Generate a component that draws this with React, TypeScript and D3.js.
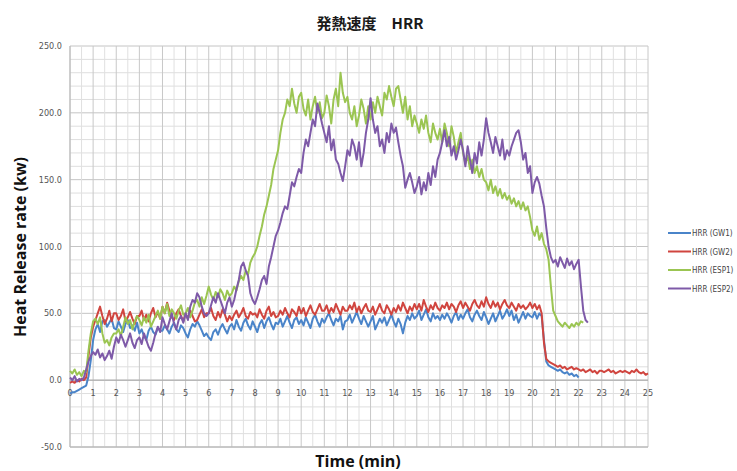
import * as d3 from "d3";

// sampled every 0.1 min
const STEP = 0.1;

const hrrGW1 = [
  -10, -9, -9, -8, -7, -6, -5, -4, 3, 15,
  30, 38, 42, 36, 44, 45, 40, 43, 46, 39,
  38, 44, 40, 36, 42, 45, 39, 41, 37, 43,
  35, 38, 33, 30, 37, 40, 36, 34, 39, 37,
  37, 41, 38, 35, 40, 43, 38, 36, 41, 39,
  35, 32, 38, 42, 40, 44, 41, 37, 33, 35,
  32, 30, 36, 38, 34, 39, 42, 38, 35, 40,
  42, 38, 45, 40, 37, 43, 46, 41, 38, 44,
  40, 36, 42, 45, 39, 44, 47, 42, 38, 43,
  42, 46, 40, 44, 48, 43, 39, 45, 47, 42,
  45, 41, 47, 43, 39, 46, 49, 44, 40, 46,
  43, 47, 50, 45, 41, 46, 44, 48, 38, 44,
  45, 49, 43, 47, 51, 46, 42, 48, 44, 40,
  44, 48, 38, 42, 46, 43, 47, 41, 45, 49,
  44, 40, 46, 42, 35, 43, 48, 45, 50, 46,
  48, 52, 45, 49, 53, 47, 44, 50, 46, 48,
  45, 49, 46, 50, 47, 43, 48, 51, 45, 49,
  46, 50, 53, 47, 44, 49, 52, 48, 45, 51,
  47, 42, 46, 50, 44, 48, 52, 46, 49, 53,
  48, 52, 45, 49, 43, 47, 51, 46, 50, 48,
  47, 51, 46, 50, 48, 30, 14, 11, 10, 9,
  8, 7, 8, 6, 5, 6, 4, 5, 3, 4,
  2,
];

const hrrGW2 = [
  -2, -1, -2, 0, -1, 1, 0, 2, 18, 32,
  40, 45, 50, 55, 48, 42, 46, 52, 44, 50,
  50, 45, 48, 53, 44, 47, 51, 46, 42, 48,
  48, 52, 45, 49, 44, 50, 54, 47, 51, 46,
  55, 50, 58, 52, 47, 45, 50, 53, 48, 44,
  50, 46, 52, 48, 44, 45, 49, 53, 47, 50,
  50, 54, 48, 45, 51, 47, 53, 49, 44, 48,
  45, 49, 52, 47, 50, 54, 48, 46, 51, 49,
  50, 47, 53, 49, 46, 52, 55, 48, 51, 47,
  48, 52, 49, 54, 50, 47, 53, 51, 48, 55,
  50, 54, 48, 52, 56, 51, 49, 53, 57, 52,
  52, 56, 50, 54, 51, 57, 53, 49, 55, 52,
  52, 56, 53, 58, 51, 55, 50, 54, 57, 52,
  51, 55, 49, 53, 57, 52, 50, 56, 53, 49,
  54, 51, 56, 52, 58, 54, 50, 55, 52, 57,
  53, 57, 52, 60, 55, 51, 56, 53, 58, 54,
  52, 56, 54, 58, 53, 57, 55, 51, 56, 59,
  54, 58, 55, 52, 57, 60, 56, 54, 59, 55,
  62, 57, 54, 59, 55, 58, 53, 57, 60, 56,
  54, 58, 55, 52, 57, 54, 56, 53, 55, 58,
  54, 57, 53, 56, 50, 28, 16, 14, 13, 12,
  11, 10, 11, 9, 10, 8, 9, 10, 8, 9,
  8, 7, 8, 6, 7, 8, 6, 7, 5, 7,
  7, 6, 7, 8, 6, 7, 5, 6, 7, 6,
  7, 6, 5, 7, 6, 8, 6, 5, 6, 4,
  5,
];

const hrrESP1 = [
  7, 5, 8, 4, 6, 3, 7, 6, 22, 35,
  44, 46, 42, 47, 35, 28, 30, 26, 32, 35,
  35, 38, 33, 40, 47, 42, 45, 38, 44, 48,
  45, 41, 47, 43, 49, 40, 44, 48, 52, 46,
  55, 50, 57, 48, 53, 50, 46, 52, 56, 49,
  50, 54, 47, 52, 58, 60, 55, 62, 57, 63,
  70, 64, 60, 66, 62, 68, 65, 60, 67, 63,
  65, 70, 67, 74, 78, 75, 82, 79, 88, 92,
  95, 100, 108, 115, 124, 130, 138, 146, 158, 165,
  172, 185, 195, 200, 210, 205, 218, 207, 200, 212,
  215, 203, 198, 210, 195, 205, 212, 200, 208, 196,
  200, 213, 205, 192, 210, 218, 205, 230, 215, 208,
  212, 200, 195, 205, 190, 198, 210, 203, 192, 205,
  195, 208, 200, 212, 205, 198, 215, 210, 220, 212,
  205, 218, 220, 210, 200, 212, 195, 205, 190, 198,
  192, 185, 195, 188, 198, 185, 178, 192, 185, 180,
  188, 178, 192, 185, 175, 190, 182, 170, 178, 185,
  170, 162, 168, 158, 165, 155, 160, 152, 158, 150,
  148, 142, 150, 140, 145, 138, 143, 136, 140, 135,
  138, 132, 136, 130, 134, 128, 133, 127, 130, 122,
  112, 108, 115, 105, 110, 102, 98, 90, 70, 52,
  48, 44, 42, 40, 43, 41, 39, 42, 40, 43,
  41, 44, 43,
];

const hrrESP2 = [
  2, 0, 3, -1, 1, 0, 2, 8, 14, 18,
  21, 19, 23, 17, 20, 15, 18, 22, 16, 25,
  32, 28, 34, 30, 25, 30, 35, 28, 24, 30,
  32, 27, 35, 30, 25, 22, 28, 35, 40, 36,
  47, 42, 38, 44, 50, 42, 38, 45, 48, 43,
  50, 45, 55, 60, 58, 65, 62, 55, 50, 48,
  50, 56, 62, 58, 65, 60, 55, 50, 58, 62,
  55, 60, 68, 75, 85, 88, 82, 78, 65, 60,
  57, 62, 68, 75, 78, 72, 85, 92, 100, 108,
  112, 118, 125, 130, 128, 138, 148, 145, 152, 158,
  155, 170, 180, 175, 185, 195, 190, 207, 200, 192,
  185, 178, 190, 172, 180, 165, 162, 155, 149, 160,
  172, 168, 180, 175, 165, 178, 160, 170, 185, 195,
  211, 195, 185, 190, 175, 180, 170, 185, 178, 192,
  185, 189, 178, 168, 160, 144, 150, 155, 148, 140,
  145, 152, 139, 148, 142, 155, 146, 160, 152, 165,
  170, 178, 187, 175, 182, 168, 175, 165, 172, 180,
  172, 160, 175, 165, 155, 170, 162, 178, 168, 180,
  196, 185, 178, 170, 182, 175, 168, 180, 165, 172,
  168, 175, 180, 185, 187, 178, 165, 170, 155, 160,
  140, 148, 152, 147, 138, 130, 114, 100, 92, 88,
  90, 85, 92, 88, 84, 91, 86, 89, 83, 87,
  90, 70, 52, 45, 43,
];

const seriesNames = ["HRR (GW1)", "HRR (GW2)", "HRR (ESP1)", "HRR (ESP2)"];
const seriesValues = [hrrGW1, hrrGW2, hrrESP1, hrrESP2];
const seriesColors = ["#4a84c9", "#d0453f", "#9bc552", "#7e5aa8"];

const xTicks = d3.range(0, 26);
const yTicks = [-50, 0, 50, 100, 150, 200, 250];

const W = 737;
const H = 471;
const left = 70;
const right = 648;
const top = 46;
const bottom = 447;

const tickFont = "'Liberation Sans Narrow', 'DejaVu Sans Condensed', 'Liberation Sans', sans-serif";

export default function App() {
  const x = d3.scaleLinear().domain([0, 25]).range([left, right]);
  const y = d3.scaleLinear().domain([-50, 250]).range([bottom, top]);

  const line = d3
    .line<number>()
    .x((_, i) => x(i * STEP))
    .y((d) => y(d));

  const vGrid = d3.range(0, 25.01, 0.5);
  const hGrid = d3.range(-50, 250.01, 10);

  return (
    <svg
      width={W}
      height={H}
      style={{ position: "absolute", left: 0, top: 0, background: "#fff" }}
    >
      {/* title */}
      <text
        x={370}
        y={29}
        textAnchor="middle"
        fontFamily="'Noto Sans CJK JP', sans-serif"
        fontWeight="bold"
        fontSize={15}
        fill="#1a1a1a"
      >
        発熱速度　HRR
      </text>

      {/* grid */}
      <g>
        {hGrid.map((v) => (
          <line
            key={"h" + v}
            x1={left}
            x2={right}
            y1={y(v)}
            y2={y(v)}
            stroke={v % 50 === 0 ? "#c4c4c4" : "#dedede"}
            strokeWidth={1}
          />
        ))}
        {vGrid.map((t) => (
          <line
            key={"v" + t}
            x1={x(t)}
            x2={x(t)}
            y1={top}
            y2={bottom}
            stroke={t % 1 === 0 ? "#c8c8c8" : "#e0e0e0"}
            strokeWidth={1}
          />
        ))}
        <line x1={left} x2={right} y1={bottom} y2={bottom} stroke="#b0b0b0" />
        <line x1={left} x2={left} y1={top} y2={bottom} stroke="#b8b8b8" />
        <line x1={left} x2={right} y1={y(0)} y2={y(0)} stroke="#a8a8a8" />
      </g>

      {/* y tick labels */}
      <g fontFamily={tickFont} fontSize={9} fill="#555">
        {yTicks.map((v) => (
          <text key={v} x={left - 8} y={y(v) + 3} textAnchor="end">
            {v.toFixed(1)}
          </text>
        ))}
      </g>

      {/* x tick labels on the zero line */}
      <g fontFamily={tickFont} fontSize={9} fill="#555">
        {xTicks.map((t) => (
          <text key={t} x={x(t)} y={y(0) + 16} textAnchor="middle">
            {t}
          </text>
        ))}
      </g>

      {/* series */}
      <g fill="none" strokeWidth={2} strokeLinejoin="round">
        {seriesValues.map((vals, i) => (
          <path key={seriesNames[i]} d={line(vals) || ""} stroke={seriesColors[i]} />
        ))}
      </g>

      {/* axis titles */}
      <text
        transform={`translate(26,247) rotate(-90)`}
        textAnchor="middle"
        fontFamily="'Open Sans', 'Noto Sans', sans-serif"
        fontWeight="bold"
        fontSize={16}
        fill="#111"
      >
        Heat Release rate (kw)
      </text>
      <text
        x={358}
        y={467}
        textAnchor="middle"
        fontFamily="'Open Sans', 'Noto Sans', sans-serif"
        fontWeight="bold"
        fontSize={16}
        fill="#111"
      >
        Time (min)
      </text>

      {/* legend */}
      <g fontFamily={tickFont} fontSize={8} fill="#444">
        {seriesNames.map((name, i) => {
          const ly = 233 + i * 18.5;
          return (
            <g key={name}>
              <line x1={668} x2={691} y1={ly} y2={ly} stroke={seriesColors[i]} strokeWidth={2} />
              <text x={692} y={ly + 3}>
                {name}
              </text>
            </g>
          );
        })}
      </g>
    </svg>
  );
}
